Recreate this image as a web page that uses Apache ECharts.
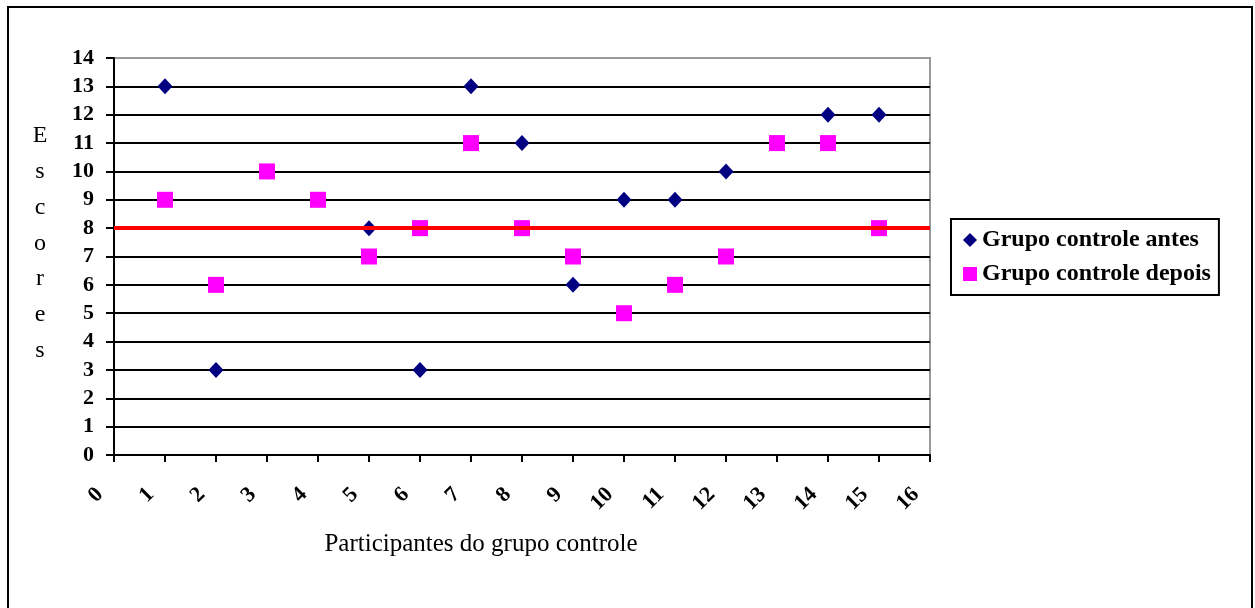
<!DOCTYPE html>
<html>
<head>
<meta charset="utf-8">
<script src="https://cdn.jsdelivr.net/npm/echarts@6/dist/echarts.min.js"></script>
<style>html,body{margin:0;padding:0;background:#fff}#c{width:1255px;height:608px}</style>
</head>
<body>
<div id="c"></div>
<script>
const participants = [1,2,3,4,5,6,7,8,9,10,11,12,13,14,15];
const antes  = [13,3,10,9,8,3,13,11,6,9,9,10,11,12,12];
const depois = [9,6,10,9,7,8,11,8,7,5,6,7,11,11,8];
const xTicks = [0,16];
const yTicks = [0,14];
const referenceLine = 8;
const seriesNames = ['Grupo controle antes','Grupo controle depois'];
const xTitle = 'Participantes do grupo controle';
const yTitle = 'Escores';

const font = 'Liberation Serif';
const splitColors = [];
for (let i = yTicks[0]; i <= yTicks[1]; i++) splitColors.push(i === yTicks[1] ? '#999999' : '#000000');

const chart = echarts.init(document.getElementById('c'), null, {renderer:'canvas'});
chart.setOption({
  animation:false,
  backgroundColor:'#fff',
  grid:{left:114,right:325,top:58,bottom:153,show:true,borderColor:'#999999',borderWidth:2,backgroundColor:'transparent'},
  xAxis:{
    type:'value',min:xTicks[0],max:xTicks[1],interval:1,
    axisLine:{show:true,onZero:false,lineStyle:{color:'#000',width:2}},
    axisTick:{show:true,length:7,lineStyle:{color:'#000',width:2}},
    splitLine:{show:false},
    axisLabel:{rotate:45,margin:22,padding:[0,20,0,0],color:'#000',fontFamily:font,fontWeight:'bold',fontSize:22}
  },
  yAxis:{
    type:'value',min:yTicks[0],max:yTicks[1],interval:1,
    axisLine:{show:true,lineStyle:{color:'#000',width:2}},
    axisTick:{show:true,length:8,lineStyle:{color:'#000',width:2}},
    splitLine:{show:true,lineStyle:{color:splitColors,width:2}},
    axisLabel:{margin:20,color:'#000',fontFamily:font,fontWeight:'bold',fontSize:22}
  },
  legend:{
    orient:'vertical',left:951,top:219,
    borderColor:'#000',borderWidth:2,padding:[9,8,9,12],
    itemGap:10,itemWidth:14,itemHeight:14,
    textStyle:{color:'#000',fontFamily:font,fontWeight:'bold',fontSize:24},
    data:[{name:seriesNames[0],icon:'diamond'},{name:seriesNames[1],icon:'rect'}]
  },
  graphic:[
    {type:'rect',shape:{x:8,y:7,width:1244,height:640},style:{fill:'none',stroke:'#000',lineWidth:2},silent:true,z:-1},
    {type:'text',x:40,y:118,style:{text:yTitle.split('').join('\n'),font:'24px "Liberation Serif"',fill:'#000',lineHeight:35.8,align:'center',verticalAlign:'top'}},
    {type:'text',x:481,y:544,style:{text:xTitle,font:'25px "Liberation Serif"',fill:'#000',align:'center',verticalAlign:'middle'}}
  ],
  series:[
    {
      name:seriesNames[0],type:'scatter',symbol:'diamond',symbolSize:[15,16],
      itemStyle:{color:'#000080',opacity:1},
      data:participants.map((p,i)=>[p,antes[i]]),z:3,
      markLine:{silent:true,symbol:'none',label:{show:false},
        lineStyle:{color:'#ff0000',width:4,type:'solid',opacity:1},
        data:[{yAxis:referenceLine}]}
    },
    {
      name:seriesNames[1],type:'scatter',symbol:'rect',symbolSize:16,
      itemStyle:{color:'#ff00ff',opacity:1},
      data:participants.map((p,i)=>[p,depois[i]]),z:4
    }
  ]
});
</script>
</body>
</html>
